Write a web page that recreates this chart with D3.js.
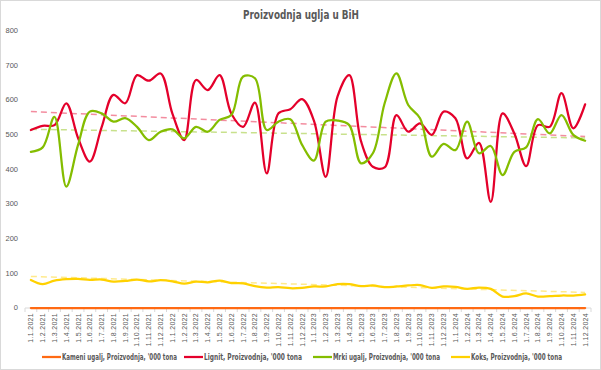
<!DOCTYPE html>
<html><head><meta charset="utf-8">
<script src="https://cdn.jsdelivr.net/npm/d3@7"></script>
<style>
body{margin:0;background:#fff;}
svg{display:block;}
</style></head>
<body><svg id="c" width="601" height="370"></svg>
<script>
const months = [];
for (const y of [2021, 2022, 2023, 2024]) for (let m = 1; m <= 12; m++) months.push(`1.${m}.${y}`);

const kameni = new Array(48).fill(0);
const lignit = [513,525,527,590,490,422,521,614,590,671,655,676,
                560,484,657,628,671,560,522,592,388,561,573,602,
                540,378,609,671,480,407,405,556,508,532,499,566,
                547,431,476,306,561,503,409,527,522,619,518,587];
const mrki = [450,463,551,350,470,566,561,537,547,522,484,508,
              515,489,522,508,542,556,667,662,513,537,544,470,
              425,537,540,527,417,446,590,676,585,547,436,473,
              455,537,446,467,383,450,463,544,503,556,499,482];
const koks = [81,69,79,83,84,81,82,76,78,82,77,80,
              77,70,76,74,79,72,71,63,59,60,57,58,
              62,62,69,69,63,65,60,62,65,66,58,62,
              61,55,59,55,33,34,42,33,34,36,36,39];
// trendline end values (first month, last month)
const trendLignit = [566, 494];
const trendMrki = [515, 490];
const trendKoks = [91, 45];

const yTicks = [0,100,200,300,400,500,600,700,800];
const seriesNames = ["Kameni ugalj, Proizvodnja, '000 tona","Lignit, Proizvodnja, '000 tona","Mrki ugalj, Proizvodnja, '000 tona","Koks, Proizvodnja, '000 tona"];
const colors = ["#FF6A13","#E4002B","#84BD00","#FFD100"];

const svg = d3.select("#c");
const txt = "#595959";
svg.append("rect").attr("x",0.5).attr("y",0.5).attr("width",600).attr("height",369)
   .attr("fill","#fff").attr("stroke","#d9d9d9");

svg.append("text").attr("x",243).attr("y",19)
  .attr("font-family","'DejaVu Sans Condensed',sans-serif")
  .attr("font-weight","bold").attr("font-size",12.5).attr("fill",txt)
  .attr("textLength",116).attr("lengthAdjust","spacingAndGlyphs")
  .text("Proizvodnja uglja u BiH");

const x = d3.scaleBand().domain(months).range([25,591]).padding(0);
const y = d3.scaleLinear().domain([0,800]).range([308,30.4]);
const cx = d => x(d) + x.bandwidth()/2;

// y labels
svg.append("g").selectAll("text").data(yTicks).join("text")
  .attr("x",18).attr("y",d=>y(d)).attr("dy","0.32em").attr("text-anchor","end")
  .attr("font-family","'Liberation Sans',sans-serif").attr("font-size",7.5).attr("fill",txt)
  .text(d=>d);

// x axis line and ticks
const ax = svg.append("g");
ax.append("line").attr("x1",x.range()[0]).attr("x2",x.range()[1]).attr("y1",y(0)).attr("y2",y(0))
  .attr("stroke","#d9d9d9");
const bounds = months.map(m=>x(m)).concat([x.range()[1]]);
ax.selectAll("line.t").data(bounds).join("line").attr("class","t")
  .attr("x1",d=>d).attr("x2",d=>d).attr("y1",y(0)).attr("y2",y(0)+4).attr("stroke","#d9d9d9");
ax.selectAll("text").data(months).join("text")
  .attr("transform",d=>`translate(${cx(d)},${y(0)+5}) rotate(-90)`)
  .attr("dy","0.35em").attr("text-anchor","end")
  .attr("font-family","'Liberation Sans',sans-serif").attr("font-size",7).attr("fill",txt)
  .attr("letter-spacing",0.3)
  .text(d=>d);

// trendlines
const trends = [[trendLignit,colors[1]],[trendMrki,colors[2]],[trendKoks,colors[3]]];
const first = months[0], last = months[months.length-1];
svg.append("g").selectAll("line").data(trends).join("line")
  .attr("x1",cx(first)).attr("x2",cx(last))
  .attr("y1",d=>y(d[0][0])).attr("y2",d=>y(d[0][1]))
  .attr("stroke",d=>d[1]).attr("stroke-opacity",0.45).attr("stroke-width",1.5)
  .attr("stroke-dasharray","6,4");

// lines
const line = d3.line().x((d,i)=>cx(months[i])).y(d=>y(d)).curve(d3.curveCatmullRom.alpha(0.5));
const data = [kameni, lignit, mrki, koks];
svg.append("g").selectAll("path").data(data).join("path")
  .attr("d",d=>line(d)).attr("fill","none")
  .attr("stroke",(d,i)=>colors[i]).attr("stroke-width",2.25)
  .attr("stroke-linejoin","round").attr("stroke-linecap","round");

// legend
const legX = [42,184,313,451];
const legW = [115,98,107,91];
const lg = svg.append("g").attr("font-family","'DejaVu Sans Condensed',sans-serif")
  .attr("font-weight","bold").attr("font-size",8).attr("fill",txt);
seriesNames.forEach((n,i)=>{
  lg.append("line").attr("x1",legX[i]).attr("x2",legX[i]+19).attr("y1",357).attr("y2",357)
    .attr("stroke",colors[i]).attr("stroke-width",2.25);
  lg.append("text").attr("x",legX[i]+20).attr("y",357).attr("dy","0.35em")
    .attr("textLength",legW[i]).attr("lengthAdjust","spacingAndGlyphs").text(n);
});
</script></body></html>
